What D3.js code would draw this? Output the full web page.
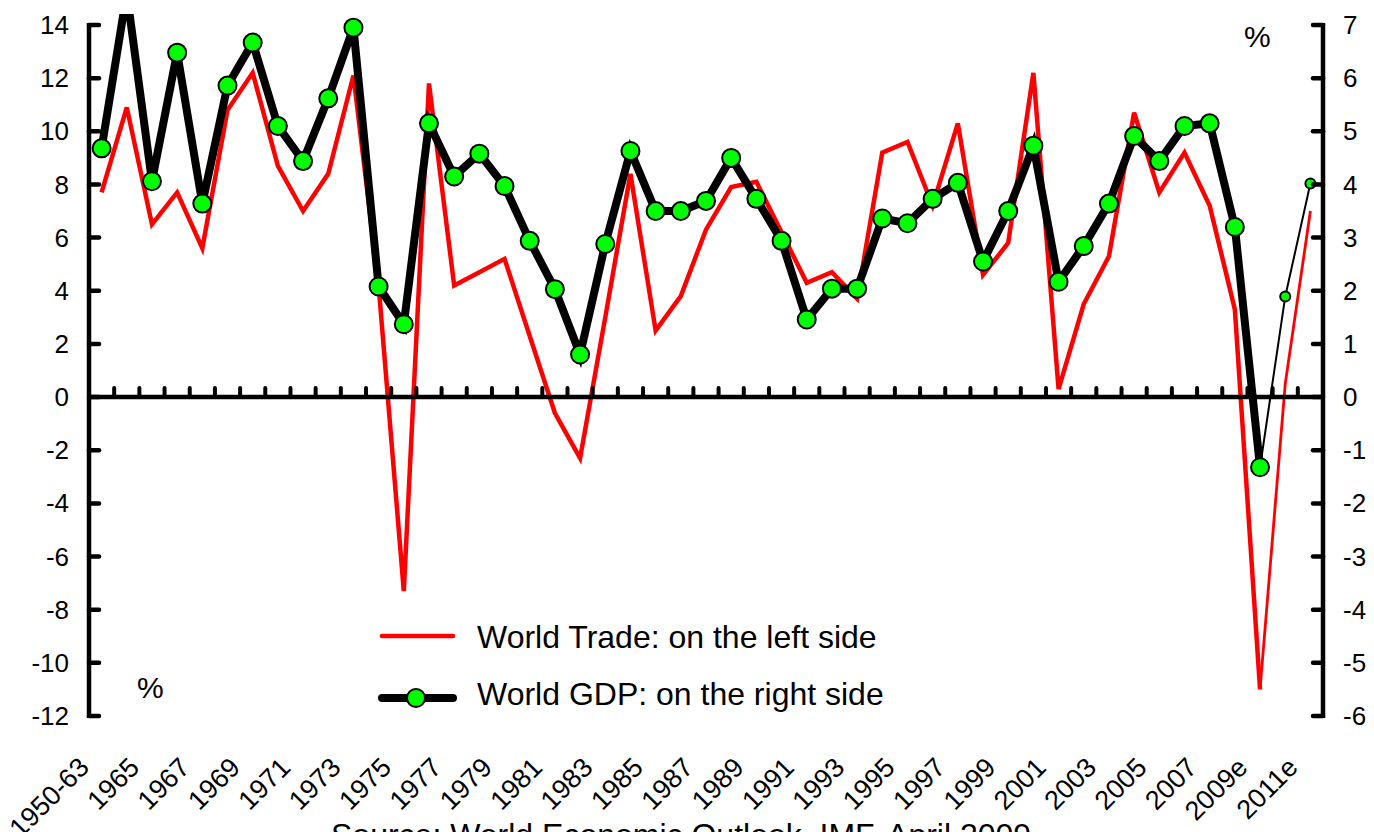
<!DOCTYPE html>
<html>
<head>
<meta charset="utf-8">
<script src="https://cdn.jsdelivr.net/npm/d3@7"></script>
<style>
  body { margin: 0; background: #fff; }
  svg text { font-family: "Liberation Sans", Arial, sans-serif; fill: #000; }
</style>
</head>
<body>
<svg id="chart" width="1374" height="832"></svg>
<script>
"use strict";

var categories = ["1950-63", "1964", "1965", "1966", "1967", "1968", "1969", "1970", "1971", "1972",
  "1973", "1974", "1975", "1976", "1977", "1978", "1979", "1980", "1981", "1982", "1983", "1984",
  "1985", "1986", "1987", "1988", "1989", "1990", "1991", "1992", "1993", "1994", "1995", "1996",
  "1997", "1998", "1999", "2000", "2001", "2002", "2003", "2004", "2005", "2006", "2007", "2008",
  "2009e", "2010e", "2011e"];

// world trade growth, % (left axis)
var tradeGrowth = [7.7, 10.9, 6.5, 7.7, 5.6, 10.8, 12.2, 8.7, 7.0, 8.4,
  12.1, 4.2, -7.3, 11.8, 4.2, 4.7, 5.2, 2.3, -0.6, -2.3, 3.0, 8.4,
  2.5, 3.8, 6.3, 7.9, 8.1, 6.2, 4.3, 4.7, 3.7, 9.2, 9.6, 7.2,
  10.3, 4.6, 5.8, 12.2, 0.3, 3.5, 5.3, 10.7, 7.7, 9.2, 7.2, 3.3,
  -11.0, 0.5, 7.0];

// world GDP growth, % (right axis)
var gdpGrowth = [4.68, 7.6, 4.06, 6.48, 3.64, 5.86, 6.67, 5.10, 4.44, 5.62,
  6.95, 2.08, 1.37, 5.15, 4.15, 4.58, 3.97, 2.94, 2.03, 0.80, 2.88, 4.63,
  3.50, 3.50, 3.69, 4.50, 3.73, 2.94, 1.46, 2.04, 2.04, 3.36, 3.27, 3.73,
  4.03, 2.55, 3.50, 4.73, 2.17, 2.84, 3.64, 4.91, 4.44, 5.10, 5.15, 3.20,
  -1.32, 1.89, 4.02];

var forecastFrom = "2009e";

var xTickLabels = ["1950-63", "1965", "1967", "1969", "1971", "1973", "1975", "1977", "1979",
  "1981", "1983", "1985", "1987", "1989", "1991", "1993", "1995", "1997", "1999", "2001",
  "2003", "2005", "2007", "2009e", "2011e"];
var leftTicks = [-12, -10, -8, -6, -4, -2, 0, 2, 4, 6, 8, 10, 12, 14];
var rightTicks = [-6, -5, -4, -3, -2, -1, 0, 1, 2, 3, 4, 5, 6, 7];

var legendItems = ["World Trade: on the left side", "World GDP: on the right side"];
var sourceText = "Source: World Economic Outlook, IMF, April 2009";

var green = "#00ff00";
var red = "#ff0000";

var svg = d3.select("#chart");

var x = d3.scaleBand().domain(categories).range([89, 1323]);
var yL = d3.scaleLinear().domain([-12, 14]).range([716, 25]);
var yR = d3.scaleLinear().domain([-6, 7]).range([716, 25]);

function cx(c) { return x(c) + x.bandwidth() / 2; }

var trade = categories.map(function(c, i) { return { c: c, v: tradeGrowth[i] }; });
var gdp = categories.map(function(c, i) { return { c: c, v: gdpGrowth[i] }; });
var fIdx = categories.indexOf(forecastFrom);

svg.append("defs").append("clipPath").attr("id", "plot")
  .append("rect").attr("x", 0).attr("y", 14).attr("width", 1374).attr("height", 790);

var plot = svg.append("g").attr("clip-path", "url(#plot)");

var lineL = d3.line().x(function(d) { return cx(d.c); }).y(function(d) { return yL(d.v); });
var lineR = d3.line().x(function(d) { return cx(d.c); }).y(function(d) { return yR(d.v); });

// trade line
plot.append("path").datum(trade.slice(0, fIdx + 1))
  .attr("d", lineL).attr("fill", "none").attr("stroke", red).attr("stroke-width", 4.5);
plot.append("path").datum(trade.slice(fIdx))
  .attr("d", lineL).attr("fill", "none").attr("stroke", red).attr("stroke-width", 2.8);

// gdp line
plot.append("path").datum(gdp.slice(0, fIdx + 1))
  .attr("d", lineR).attr("fill", "none").attr("stroke", "#000").attr("stroke-width", 8);
plot.append("path").datum(gdp.slice(fIdx))
  .attr("d", lineR).attr("fill", "none").attr("stroke", "#000").attr("stroke-width", 2);

plot.selectAll("circle.gdp").data(gdp).enter().append("circle")
  .attr("class", "gdp")
  .attr("cx", function(d) { return cx(d.c); })
  .attr("cy", function(d) { return yR(d.v); })
  .attr("r", function(d, i) { return i > fIdx ? 5 : 9; })
  .attr("fill", green).attr("stroke", "#000").attr("stroke-width", 2);

// axes
var axisW = 4.5;
svg.append("line").attr("x1", 89).attr("x2", 89).attr("y1", yL(14) - 2).attr("y2", yL(-12) + 2)
  .attr("stroke", "#000").attr("stroke-width", axisW);
svg.append("line").attr("x1", 1323).attr("x2", 1323).attr("y1", yR(7) - 2).attr("y2", yR(-6) + 2)
  .attr("stroke", "#000").attr("stroke-width", axisW);
svg.append("line").attr("x1", 87).attr("x2", 1325).attr("y1", yL(0)).attr("y2", yL(0))
  .attr("stroke", "#000").attr("stroke-width", axisW);

svg.selectAll("line.lt").data(leftTicks).enter().append("line")
  .attr("x1", 89).attr("x2", 99)
  .attr("y1", function(d) { return yL(d); }).attr("y2", function(d) { return yL(d); })
  .attr("stroke", "#000").attr("stroke-width", axisW).attr("stroke-linecap", "round");
svg.selectAll("text.lt").data(leftTicks).enter().append("text")
  .attr("x", 69).attr("y", function(d) { return yL(d); }).attr("dy", "0.35em")
  .attr("text-anchor", "end").attr("font-size", 26)
  .text(function(d) { return d; });

svg.selectAll("line.rt").data(rightTicks).enter().append("line")
  .attr("x1", 1313).attr("x2", 1323)
  .attr("y1", function(d) { return yR(d); }).attr("y2", function(d) { return yR(d); })
  .attr("stroke", "#000").attr("stroke-width", axisW).attr("stroke-linecap", "round");
svg.selectAll("text.rt").data(rightTicks).enter().append("text")
  .attr("x", 1343).attr("y", function(d) { return yR(d); }).attr("dy", "0.35em")
  .attr("text-anchor", "start").attr("font-size", 26)
  .text(function(d) { return d; });

// category boundary ticks on the zero line
svg.selectAll("line.xt").data(categories.slice(1)).enter().append("line")
  .attr("x1", function(d) { return x(d); }).attr("x2", function(d) { return x(d); })
  .attr("y1", yL(0)).attr("y2", yL(0) - 9)
  .attr("stroke", "#000").attr("stroke-width", 4).attr("stroke-linecap", "round");

svg.selectAll("text.xl").data(xTickLabels).enter().append("text")
  .attr("transform", function(d) { return "translate(" + (cx(d) - 11) + ",769) rotate(-45)"; })
  .attr("text-anchor", "end").attr("font-size", 27)
  .text(function(d) { return d; });

// % units
svg.append("text").attr("x", 137).attr("y", 698).attr("font-size", 30).text("%");
svg.append("text").attr("x", 1244).attr("y", 47).attr("font-size", 30).text("%");

// legend
var lg = svg.append("g");
lg.append("line").attr("x1", 382).attr("x2", 453).attr("y1", 636).attr("y2", 636)
  .attr("stroke", red).attr("stroke-width", 4.5).attr("stroke-linecap", "round");
lg.append("line").attr("x1", 382).attr("x2", 453).attr("y1", 698).attr("y2", 698)
  .attr("stroke", "#000").attr("stroke-width", 8).attr("stroke-linecap", "round");
lg.append("circle").attr("cx", 416).attr("cy", 698).attr("r", 9)
  .attr("fill", green).attr("stroke", "#000").attr("stroke-width", 2);
lg.selectAll("text").data(legendItems).enter().append("text")
  .attr("x", 477).attr("y", function(d, i) { return 648 + i * 57; })
  .attr("font-size", 32).text(function(d) { return d; });

svg.append("text").attr("x", 331).attr("y", 846).attr("font-size", 32).text(sourceText);
</script>
</body>
</html>
